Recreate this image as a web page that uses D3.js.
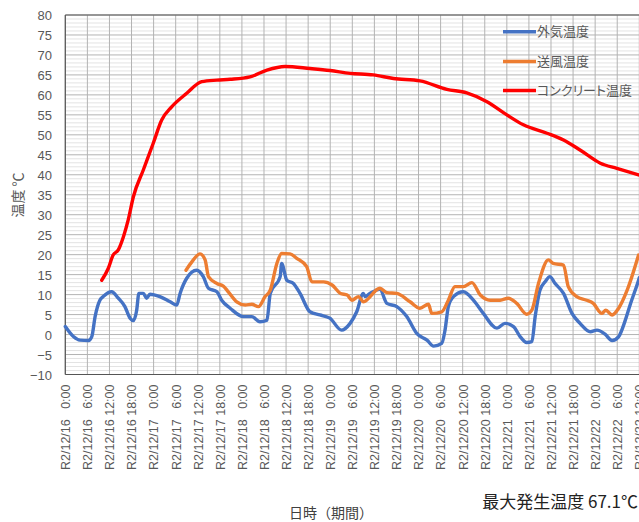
<!DOCTYPE html>
<html><head><meta charset="utf-8">
<script src="https://cdn.jsdelivr.net/npm/d3@7"></script>
<style>
html,body{margin:0;padding:0;background:#fff;}
svg{display:block;font-family:"Noto Sans CJK JP","Noto Sans",sans-serif;}
.palt{font-feature-settings:"palt" 1;}
</style></head>
<body><svg id="c" width="639" height="522"></svg>
<script>
// ---- data (hours since R2/12/16 0:00) ----
const seriesNames = ["外気温度", "送風温度", "コンクリート温度"];
const seriesColors = ["#4472C4", "#ED7D31", "#FF0000"];

const outsideHours = [0,2.2,4.0,6.3,7.2,8.1,9.4,10.3,12.6,14.4,16.2,17.6,18.5,19.4,20.0,21.2,22.1,23.0,25.7,28.5,30.3,31.2,33.0,35.7,37.5,38.9,41.2,42.5,44.8,48.4,50.7,52.9,54.8,55.7,58.4,58.8,60.2,62.0,63.8,66.5,69.2,71.9,75.1,77.4,79.2,81.0,81.5,82.8,85.5,87.4,90.1,92.8,95.5,98.3,100.1,102.3,103.2,104.1,105.5,108.2,110.9,113.6,117.3,119.5,121.8,123.6,125.4,126.8,127.7,129.0,130.4,131.7,133.1,135.4,137.7,139.9,142.7,144.5,146.7,148.6,150.4,152.2,153.5,155.8,156];
const outsideTemp = [2.0,-0.5,-1.4,-1.5,-0.5,4.5,8.6,9.5,10.7,9.1,7.0,4.1,3.5,6.1,10.3,10.3,9.1,10.1,9.5,8.2,7.4,10.3,14.1,16.1,14.5,11.6,10.7,8.6,6.6,4.5,4.5,3.2,3.6,10.3,14.5,17.8,13.6,12.8,10.3,5.7,4.9,4.1,1.1,2.8,5.7,10.3,9.5,10.3,11.3,7.8,7.0,4.5,0.3,-1.4,-2.9,-2.2,1.1,7.0,9.5,10.7,8.6,5.3,1.6,2.8,2.0,-0.5,-2.0,-1.8,4.5,11.1,13.2,14.5,12.8,10.3,5.3,2.8,0.7,1.1,0.1,-1.5,-0.5,3.6,7.4,13.6,14.2];

const blowHours = [32.8,34.4,36.6,38.0,38.9,41.2,43.0,44.3,46.6,48.9,50.7,52.5,54.3,55.7,57.5,58.8,61.1,62.9,65.6,67.0,70.2,72.5,74.8,76.6,77.9,79.7,81.0,85.5,87.4,90.1,93.7,96.4,98.7,99.6,102.3,104.1,105.9,108.2,110.5,112.8,115.5,118.2,120.4,122.7,125.4,126.8,128.6,131.3,132.6,135.4,136.7,139.0,141.7,143.5,145.8,146.9,148.6,150.4,152.7,155.8];
const blowTemp = [16.1,18.2,20.2,18.7,14.5,12.8,12.1,10.7,8.2,7.4,7.6,7.0,9.5,11.1,17.8,20.3,20.2,19.1,17.0,13.2,13.2,12.4,10.3,9.9,8.6,9.5,8.2,11.6,10.5,10.3,8.2,6.6,7.6,5.3,5.7,8.6,12.0,12.0,13.0,9.9,8.6,8.6,9.1,7.8,5.1,6.1,12.8,18.7,17.8,17.4,12.0,9.5,8.6,7.8,5.3,6.1,4.9,6.6,11.1,19.9];

const concreteHours = [9.9,11.7,13.0,14.4,15.8,17.1,18.5,21.2,23.9,26.2,28.9,33.0,37.1,41.2,44.8,50.2,54.8,59.7,66.5,72.0,77.4,83.7,89.2,96.4,103.7,109.1,114.6,120.0,124.5,130.9,135.4,139.9,145.4,149.9,156];
const concreteTemp = [13.6,16.6,19.9,21.2,24.5,28.7,34.5,41.2,47.9,53.7,57.0,60.4,63.3,63.7,63.9,64.5,66.2,67.1,66.6,66.1,65.4,65.0,64.1,63.5,61.4,60.5,58.3,55.0,52.5,50.4,48.7,46.2,42.9,41.6,39.9];

const yTicks = [-10,-5,0,5,10,15,20,25,30,35,40,45,50,55,60,65,70,75,80];
const xTickHours = [0,6,12,18,24,30,36,42,48,54,60,66,72,78,84,90,96,102,108,114,120,126,132,138,144,150,156];
const xTickLabels = ["R2/12/16\u2007 0:00","R2/12/16\u2007 6:00","R2/12/16 12:00","R2/12/16 18:00",
 "R2/12/17\u2007 0:00","R2/12/17\u2007 6:00","R2/12/17 12:00","R2/12/17 18:00",
 "R2/12/18\u2007 0:00","R2/12/18\u2007 6:00","R2/12/18 12:00","R2/12/18 18:00",
 "R2/12/19\u2007 0:00","R2/12/19\u2007 6:00","R2/12/19 12:00","R2/12/19 18:00",
 "R2/12/20\u2007 0:00","R2/12/20\u2007 6:00","R2/12/20 12:00","R2/12/20 18:00",
 "R2/12/21\u2007 0:00","R2/12/21\u2007 6:00","R2/12/21 12:00","R2/12/21 18:00",
 "R2/12/22\u2007 0:00","R2/12/22\u2007 6:00","R2/12/22 12:00"];

const yTitle = "温度 ℃";
const xTitle = "日時（期間）";
const noteText = "最大発生温度 67.1℃";

// ---- layout ----
const svg = d3.select("#c");
svg.append("rect").attr("width",639).attr("height",522).attr("fill","#fff");
const L = 65.3, R = 639.3, T = 15, B = 374.5;
const x = d3.scaleLinear().domain([0,156]).range([L,R]);
const y = d3.scaleLinear().domain([-10,80]).range([B,T]);

// minor grid
const g = svg.append("g");
g.selectAll("line.minor").data(d3.range(-10,81,1).filter(v=>v%5!==0)).join("line")
  .attr("x1",L).attr("x2",R+5).attr("y1",d=>y(d)).attr("y2",d=>y(d))
  .attr("stroke","#e3e3e3").attr("stroke-width",1);
// major horizontal grid
g.selectAll("line.hmaj").data(yTicks).join("line")
  .attr("x1",L).attr("x2",R+5).attr("y1",d=>y(d)).attr("y2",d=>y(d))
  .attr("stroke","#b3b3b3").attr("stroke-width",1);
// vertical grid
svg.append("g").selectAll("line").data(xTickHours).join("line")
  .attr("x1",d=>x(d)).attr("x2",d=>x(d)).attr("y1",T).attr("y2",B)
  .attr("stroke","#b3b3b3").attr("stroke-width",1);

// border
svg.append("line").attr("x1",L).attr("x2",R+5).attr("y1",T).attr("y2",T).attr("stroke","#555").attr("stroke-width",1.2);
svg.append("line").attr("x1",L).attr("x2",R+5).attr("y1",B).attr("y2",B).attr("stroke","#555").attr("stroke-width",1.2);
svg.append("line").attr("x1",L).attr("x2",L).attr("y1",T).attr("y2",B).attr("stroke","#555").attr("stroke-width",1.2);

// y axis
const yAxis = d3.axisLeft(y).tickValues(yTicks).tickSize(0).tickPadding(0).tickFormat(d3.format("d"));
const ya = svg.append("g").attr("transform",`translate(52,0)`).call(yAxis);
ya.select(".domain").remove();
ya.selectAll("text").attr("fill","#595959").style("font-size","13px").attr("x",0).attr("dy","0.35em");

// x axis
const xAxis = d3.axisBottom(x).tickValues(xTickHours).tickSize(0).tickFormat((d,i)=>xTickLabels[i]);
const xa = svg.append("g").attr("transform",`translate(0,${B})`).call(xAxis);
xa.select(".domain").remove();
xa.selectAll("text").attr("fill","#595959").style("font-size","12.5px")
  .attr("transform","rotate(-90)").attr("text-anchor","end")
  .attr("x",-10).attr("y",0).attr("dy","0.35em");

// lines
const line = d3.line().x(d=>x(d[0])).y(d=>y(d[1])).curve(d3.curveMonotoneX);
const datasets = [
  d3.zip(outsideHours, outsideTemp),
  d3.zip(blowHours, blowTemp),
  d3.zip(concreteHours, concreteTemp)
];
datasets.forEach((ds,i)=>{
  svg.append("path").datum(ds).attr("d",line).attr("fill","none")
    .attr("stroke",seriesColors[i]).attr("stroke-width",3.4)
    .attr("stroke-linejoin","round").attr("stroke-linecap","round");
});

// legend
const legY = [31.7, 61.5, 90.5];
seriesNames.forEach((n,i)=>{
  svg.append("line").attr("x1",503).attr("x2",536).attr("y1",legY[i]).attr("y2",legY[i])
    .attr("stroke",seriesColors[i]).attr("stroke-width",3.6);
  svg.append("text").attr("class","palt").attr("x",537).attr("y",legY[i]).attr("dy","0.36em")
    .attr("fill","#595959").style("font-size","13px").text(n);
});

// titles
svg.append("text").attr("transform","translate(23,195) rotate(-90)").attr("text-anchor","middle")
  .attr("fill","#595959").style("font-size","14px").text(yTitle);
svg.append("text").attr("x",331).attr("y",518).attr("text-anchor","middle")
  .attr("fill","#404040").style("font-size","14px").text(xTitle);
svg.append("text").attr("x",638).attr("y",508).attr("text-anchor","end")
  .attr("fill","#222").style("font-size","17px").text(noteText);
</script></body></html>
